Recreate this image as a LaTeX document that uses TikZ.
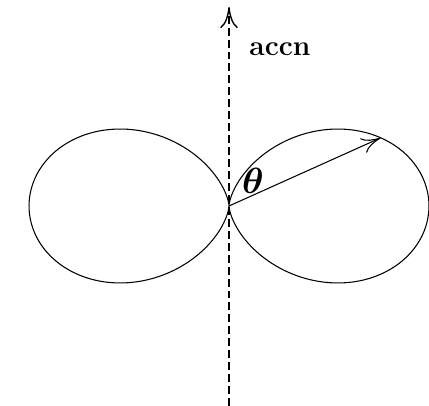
\documentclass[tikz,border=0pt]{standalone}
\usetikzlibrary{arrows.meta}
\begin{document}
\begin{tikzpicture}[declare function={R=4;phi=24.2;},line width=.6pt]
	\useasboundingbox (-4.58,-4) rectangle (4,4.12);
	\path
	(0,0) coordinate (O)
	(0,-4) coordinate (bot)
	(0,3.98) coordinate (top)
	(phi:{R*cos(phi)^2}) coordinate (tip);
	\draw[samples=200,domain=0:360,smooth] plot (\x:{R*cos(\x)^2});
	\draw[line width=.8pt,dash pattern=on 4.5pt off 2.3pt,-{To[length=12pt,width=10pt]}] (bot)--(top);
	\draw[-{To[length=11pt,width=9pt]}] (O)--(tip);
	\node[font=\fontsize{20}{24}\selectfont\boldmath] (theta) at (.48,.5) {$\theta$};
	\node[font=\fontsize{16}{19}\selectfont\bfseries] (accn) at (1.02,3.14) {accn};
\end{tikzpicture}
\end{document}
